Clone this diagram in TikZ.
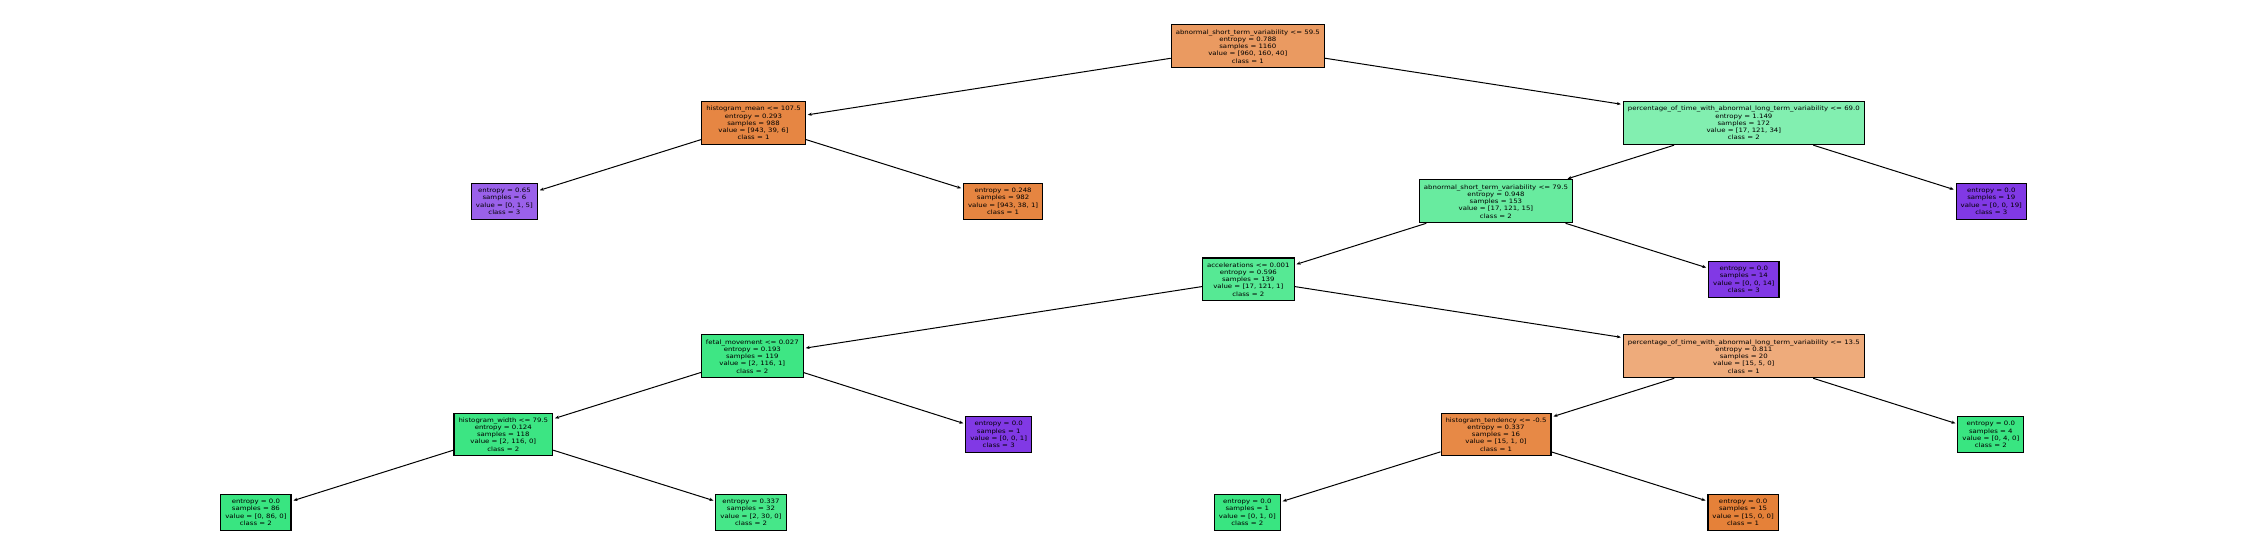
\documentclass[tikz,border=0pt]{standalone}
\usepackage{fontspec}
\setmainfont{DejaVu Sans}[FakeStretch=1.16]
\usetikzlibrary{arrows.meta}
\definecolor{cRoot}{HTML}{EA9A61}
\definecolor{cHm}{HTML}{E68643}
\definecolor{cLa}{HTML}{9A61EA}
\definecolor{cLb}{HTML}{E68541}
\definecolor{cPa}{HTML}{82EFB0}
\definecolor{cPur}{HTML}{8139E5}
\definecolor{cAb}{HTML}{68EB9F}
\definecolor{cAcc}{HTML}{56E994}
\definecolor{cFm}{HTML}{3EE684}
\definecolor{cPb}{HTML}{EEAB7B}
\definecolor{cHw}{HTML}{3CE583}
\definecolor{cHt}{HTML}{E78946}
\definecolor{cGr}{HTML}{39E581}
\definecolor{cL32}{HTML}{46E789}
\definecolor{cOr}{HTML}{E58139}
\begin{document}
\begin{tikzpicture}[x=1pt,y=-1pt,
  box/.style={draw=black, line width=1.1pt, align=center,
    font=\fontsize{6}{7.25}\selectfont, inner xsep=4.5pt, inner ysep=4.6pt, text=black},
  link/.style={-{Stealth[length=4pt,width=3.2pt]}, line width=1pt, draw=black, shorten >=2pt}]
\useasboundingbox (0,0) rectangle (2246,558);
\node[box, fill=cRoot] (root) at (1247.8,46.3) {abnormal\_short\_term\_variability <= 59.5\\entropy = 0.788\\samples = 1160\\value = [960, 160, 40]\\class = 1};
\node[box, fill=cHm] (hm) at (753.5,123.2) {histogram\_mean <= 107.5\\entropy = 0.293\\samples = 988\\value = [943, 39, 6]\\class = 1};
\node[box, fill=cLa] (la) at (504.4,201.3) {entropy = 0.65\\samples = 6\\value = [0, 1, 5]\\class = 3};
\node[box, fill=cLb] (lb) at (1003.1,201.3) {entropy = 0.248\\samples = 982\\value = [943, 38, 1]\\class = 1};
\node[box, fill=cPa] (pa) at (1743.8,123.2) {percentage\_of\_time\_with\_abnormal\_long\_term\_variability <= 69.0\\entropy = 1.149\\samples = 172\\value = [17, 121, 34]\\class = 2};
\node[box, fill=cAb] (ab) at (1495.9,201.3) {abnormal\_short\_term\_variability <= 79.5\\entropy = 0.948\\samples = 153\\value = [17, 121, 15]\\class = 2};
\node[box, fill=cPur] (l19) at (1991.3,201.3) {entropy = 0.0\\samples = 19\\value = [0, 0, 19]\\class = 3};
\node[box, fill=cAcc] (acc) at (1248.3,279.4) {accelerations <= 0.001\\entropy = 0.596\\samples = 139\\value = [17, 121, 1]\\class = 2};
\node[box, fill=cPur] (l14) at (1743.8,279.4) {entropy = 0.0\\samples = 14\\value = [0, 0, 14]\\class = 3};
\node[box, fill=cFm] (fm) at (752.3,356.3) {fetal\_movement <= 0.027\\entropy = 0.193\\samples = 119\\value = [2, 116, 1]\\class = 2};
\node[box, fill=cPb] (pb) at (1743.8,356.3) {percentage\_of\_time\_with\_abnormal\_long\_term\_variability <= 13.5\\entropy = 0.811\\samples = 20\\value = [15, 5, 0]\\class = 1};
\node[box, fill=cHw] (hw) at (503.3,434.5) {histogram\_width <= 79.5\\entropy = 0.124\\samples = 118\\value = [2, 116, 0]\\class = 2};
\node[box, fill=cPur] (l001) at (998.7,434.5) {entropy = 0.0\\samples = 1\\value = [0, 0, 1]\\class = 3};
\node[box, fill=cHt] (ht) at (1496,434.5) {histogram\_tendency <= -0.5\\entropy = 0.337\\samples = 16\\value = [15, 1, 0]\\class = 1};
\node[box, fill=cGr] (l040) at (1990.8,434.5) {entropy = 0.0\\samples = 4\\value = [0, 4, 0]\\class = 2};
\node[box, fill=cGr] (l86) at (255.9,512.3) {entropy = 0.0\\samples = 86\\value = [0, 86, 0]\\class = 2};
\node[box, fill=cL32] (l32) at (751,512.3) {entropy = 0.337\\samples = 32\\value = [2, 30, 0]\\class = 2};
\node[box, fill=cGr] (l010) at (1247.3,512.3) {entropy = 0.0\\samples = 1\\value = [0, 1, 0]\\class = 2};
\node[box, fill=cOr] (l1500) at (1743.1,512.3) {entropy = 0.0\\samples = 15\\value = [15, 0, 0]\\class = 1};
\draw[link] (root) -- (hm);
\draw[link] (root) -- (pa);
\draw[link] (hm) -- (la);
\draw[link] (hm) -- (lb);
\draw[link] (pa) -- (ab);
\draw[link] (pa) -- (l19);
\draw[link] (ab) -- (acc);
\draw[link] (ab) -- (l14);
\draw[link] (acc) -- (fm);
\draw[link] (acc) -- (pb);
\draw[link] (fm) -- (hw);
\draw[link] (fm) -- (l001);
\draw[link] (pb) -- (ht);
\draw[link] (pb) -- (l040);
\draw[link] (hw) -- (l86);
\draw[link] (hw) -- (l32);
\draw[link] (ht) -- (l010);
\draw[link] (ht) -- (l1500);
\end{tikzpicture}
\end{document}
